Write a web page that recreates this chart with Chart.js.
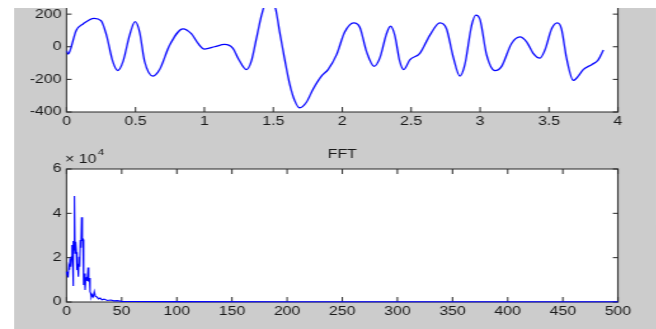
<!DOCTYPE html>
<html>
<head>
<meta charset="utf-8">
<script src="https://cdn.jsdelivr.net/npm/chart.js@4/dist/chart.umd.min.js"></script>
<style>
  html, body { margin: 0; padding: 0; background: #ffffff; overflow: hidden; width: 656px; height: 329px; }
  #fig { position: absolute; left: 0; top: 0; width: 517px; height: 329px; transform: scaleX(1.27); transform-origin: 0 0; }
  #bg { position: absolute; left: 10.5px; top: 0; right: 0; bottom: 0; background: #cccccc; }
  #cTop { position: absolute; left: 0; top: -30px; }
  #cBot { position: absolute; left: 0; top: 140px; }
  #stripTop { position: absolute; left: 0; top: 0; width: 517px; height: 7.5px; background: #ffffff; }
  #stripLeft { position: absolute; left: 0; top: 0; width: 10.5px; height: 329px; background: #ffffff; }
</style>
</head>
<body>
<div id="fig">
  <div id="bg"></div>
  <canvas id="cTop" width="517" height="160"></canvas>
  <canvas id="cBot" width="517" height="189"></canvas>
  <div id="stripTop"></div>
  <div id="stripLeft"></div>
</div>
<script>
// ---- Data ----
// Top: time signal
const sigT = [0, 0.012, 0.025, 0.07, 0.12, 0.2, 0.25, 0.29, 0.335, 0.372, 0.41, 0.457, 0.497, 0.53, 0.566, 0.627, 0.675, 0.748, 0.845, 0.905, 0.954, 1.0, 1.074, 1.147, 1.207, 1.244, 1.305, 1.34, 1.377, 1.413, 1.44, 1.465, 1.49, 1.517, 1.546, 1.583, 1.619, 1.655, 1.69, 1.74, 1.788, 1.849, 1.897, 1.958, 2.018, 2.083, 2.127, 2.176, 2.231, 2.272, 2.321, 2.35, 2.381, 2.417, 2.446, 2.49, 2.563, 2.635, 2.708, 2.756, 2.804, 2.853, 2.889, 2.938, 2.969, 3.0, 3.047, 3.107, 3.156, 3.228, 3.289, 3.337, 3.385, 3.434, 3.47, 3.519, 3.56, 3.59, 3.627, 3.676, 3.712, 3.748, 3.809, 3.857, 3.894];
const sigV = [-25, -45, -25, 100, 140, 174, 160, 70, -90, -146, -90, 70, 154, 90, -90, -180, -140, 10, 110, 80, 20, -14, 0, 14, -10, -70, -140, -90, 50, 190, 265, 320, 285, 230, 90, -80, -230, -330, -374, -340, -260, -180, -140, -50, 90, 146, 120, -30, -120, -70, 80, 126, 70, -90, -140, -80, -40, 70, 146, 110, -60, -180, -110, 130, 194, 165, -50, -146, -120, 20, 60, 30, -40, -70, -20, 110, 146, 110, -70, -206, -180, -140, -110, -80, -20];
const sigXTicks = [0, 0.5, 1, 1.5, 2, 2.5, 3, 3.5, 4];
const sigYTicks = [-400, -200, 0, 200, 400];

// Bottom: FFT magnitude
const fftF = [0, 0.6, 1.0, 1.4, 2.0, 2.6, 3.2, 3.8, 4.4, 5.0, 5.5, 5.9, 6.3, 6.7, 7.1, 7.7, 8.3, 8.9, 9.5, 10.1, 10.7, 11.3, 11.9, 12.5, 13.1, 13.7, 14.3, 14.9, 15.5, 16.1, 16.8, 17.4, 18.2, 18.8, 19.5, 20.1, 20.7, 21.3, 21.9, 22.5, 23.3, 24.2, 25.2, 26.1, 27.5, 29.0, 30.5, 32.0, 34.0, 37.0, 40.0, 43.0, 46.0, 50, 60, 100, 200, 300, 400, 500];
const fftM = [13700, 12000, 13300, 11100, 15900, 14500, 19700, 15900, 20400, 25700, 19500, 7200, 27500, 23500, 47800, 22000, 27200, 22500, 14400, 17200, 11400, 20400, 15900, 28000, 24500, 38200, 28000, 28200, 7700, 12900, 5400, 10700, 11000, 9500, 15600, 9200, 10800, 4700, 4000, 2100, 3100, 2400, 4700, 2600, 2300, 1400, 1800, 1000, 1300, 700, 900, 500, 600, 300, 200, 150, 120, 100, 100, 100];
const fftXTicks = [0, 50, 100, 150, 200, 250, 300, 350, 400, 450, 500];
const fftYTicks = [0, 20000, 40000, 60000];
const fftTitle = 'FFT';
const fftExpBase = '\u00d7 10';
const fftExp = '4';

// ---- Layout helpers (unscaled coordinates, figure is stretched by 1.27 horizontally) ----
const AXIS_LEFT = 52.4;
const AXIS_RIGHT_PAD = 30.4;
const FONT = { family: "'Liberation Sans', Arial, Helvetica, sans-serif", size: 12.5 };
const TXT = '#1a1a1a';

function boxPlugin(tickX, tickY) {
  return {
    id: 'box' + Math.random().toString(36).slice(2),
    beforeDraw(chart) {
      const { ctx, chartArea: a } = chart;
      ctx.save();
      ctx.fillStyle = '#ffffff';
      ctx.fillRect(a.left, a.top, a.right - a.left, a.bottom - a.top);
      ctx.restore();
    },
    beforeDatasetsDraw(chart) {
      const { ctx, chartArea: a, scales } = chart;
      ctx.save();
      ctx.strokeStyle = '#262626';
      ctx.lineWidth = 1;
      ctx.strokeRect(a.left, a.top, a.right - a.left, a.bottom - a.top);
      ctx.beginPath();
      scales.x.ticks.forEach(t => {
        const p = scales.x.getPixelForValue(t.value);
        ctx.moveTo(p, a.bottom); ctx.lineTo(p, a.bottom - tickX);
        ctx.moveTo(p, a.top); ctx.lineTo(p, a.top + tickX);
      });
      scales.y.ticks.forEach(t => {
        const p = scales.y.getPixelForValue(t.value);
        ctx.moveTo(a.left, p); ctx.lineTo(a.left + tickY, p);
        ctx.moveTo(a.right, p); ctx.lineTo(a.right - tickY, p);
      });
      ctx.stroke();
      ctx.restore();
    }
  };
}

function axisOpts(min, max, tickVals, fmt, isX, fixed) {
  return {
    type: 'linear',
    min: min, max: max,
    afterBuildTicks(scale) { scale.ticks = tickVals.map(v => ({ value: v })); },
    grid: { display: false, drawTicks: false },
    border: { display: false },
    ticks: {
      color: TXT, font: FONT, padding: isX ? 2 : 4,
      maxRotation: 0, autoSkip: false,
      callback: fmt
    },
    afterFit(scale) { if (isX) scale.height = fixed; else scale.width = fixed; }
  };
}

Chart.defaults.font.family = FONT.family;

// ---- Top chart ----
new Chart(document.getElementById('cTop'), {
  type: 'line',
  data: {
    datasets: [{
      data: sigT.map((t, i) => ({ x: t, y: sigV[i] })),
      borderColor: '#0000ff',
      borderWidth: 1.3,
      pointRadius: 0,
      fill: false,
      cubicInterpolationMode: 'monotone'
    }]
  },
  options: {
    responsive: false, animation: false, devicePixelRatio: 1,
    layout: { padding: { top: 8, right: AXIS_RIGHT_PAD, left: 0, bottom: 0 } },
    plugins: { legend: { display: false }, tooltip: { enabled: false }, title: { display: false } },
    scales: {
      x: axisOpts(0, 4, sigXTicks, v => String(v), true, 18),
      y: axisOpts(-400, 400, sigYTicks, v => String(v), false, AXIS_LEFT)
    }
  },
  plugins: [boxPlugin(5, 4)]
});

// ---- Bottom chart ----
const labelPlugin = {
  id: 'fftLabels',
  afterDraw(chart) {
    const { ctx, chartArea: a } = chart;
    ctx.save();
    ctx.fillStyle = TXT;
    ctx.textBaseline = 'middle';
    ctx.font = FONT.size + 'px ' + FONT.family;
    ctx.textAlign = 'center';
    ctx.fillText(fftTitle, (a.left + a.right) / 2, 15);
    ctx.textAlign = 'left';
    const x0 = 51.2;
    ctx.fillText(fftExpBase, x0, 19.5);
    const w = ctx.measureText(fftExpBase).width;
    ctx.font = '9px ' + FONT.family;
    ctx.fillText(fftExp, x0 + w + 1, 12.5);
    ctx.restore();
  }
};

new Chart(document.getElementById('cBot'), {
  type: 'line',
  data: {
    datasets: [{
      data: fftF.map((f, i) => ({ x: f, y: fftM[i] })),
      borderColor: '#0000ff',
      borderWidth: 1.1,
      pointRadius: 0,
      fill: false,
      tension: 0,
      clip: false
    }]
  },
  options: {
    responsive: false, animation: false, devicePixelRatio: 1,
    layout: { padding: { top: 29, right: AXIS_RIGHT_PAD, left: 0, bottom: 0 } },
    plugins: { legend: { display: false }, tooltip: { enabled: false }, title: { display: false } },
    scales: {
      x: axisOpts(0, 500, fftXTicks, v => String(v), true, 27),
      y: axisOpts(0, 60000, fftYTicks, v => String(v / 10000), false, AXIS_LEFT)
    }
  },
  plugins: [boxPlugin(5, 4), labelPlugin]
});
</script>
</body>
</html>
